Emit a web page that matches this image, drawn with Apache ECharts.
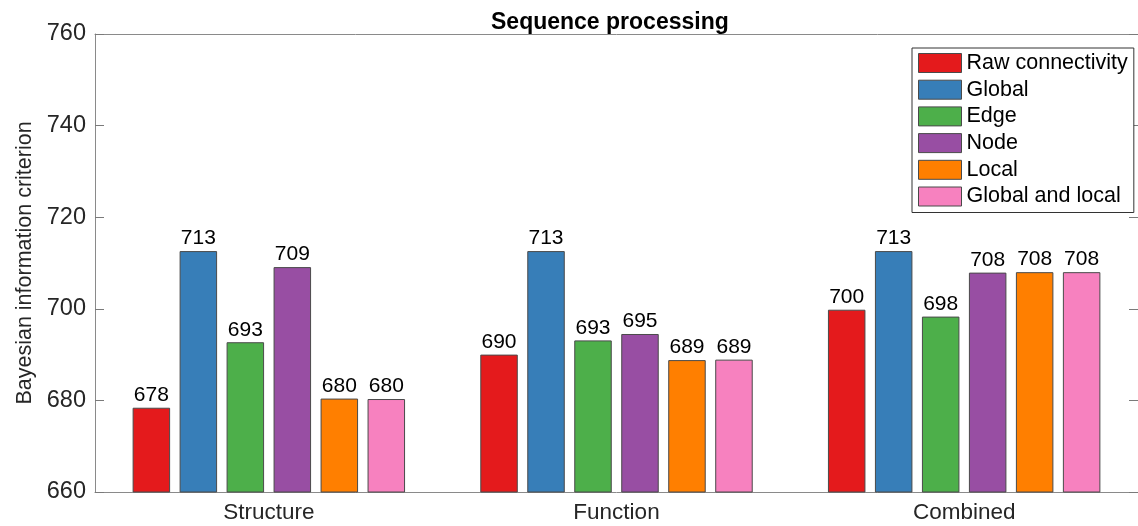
<!DOCTYPE html>
<html>
<head>
<meta charset="utf-8">
<script src="https://cdn.jsdelivr.net/npm/echarts@6/dist/echarts.min.js"></script>
<style>html,body{margin:0;padding:0;background:#fff}#c{width:1138px;height:526px}</style>
</head>
<body>
<div id="c"></div>
<script>
const categories = ['Structure', 'Function', 'Combined'];
const seriesNames = ['Raw connectivity', 'Global', 'Edge', 'Node', 'Local', 'Global and local'];
const rawConnectivity = [678.4, 690.0, 699.8];
const globalVals = [712.6, 712.6, 712.6];
const edgeVals = [692.7, 693.1, 698.3];
const nodeVals = [709.1, 694.5, 707.9];
const localVals = [680.4, 688.8, 708.0];
const globalAndLocal = [680.3, 688.9, 708.0];
const yTicks = [660, 680, 700, 720, 740, 760];
const colors = ['#E41A1C', '#377EB8', '#4DAF4A', '#984EA3', '#FF7F00', '#F781BF'];

const allValues = [rawConnectivity, globalVals, edgeVals, nodeVals, localVals, globalAndLocal];
const FONT = '"Liberation Sans", Arial, Helvetica, sans-serif';
const chart = echarts.init(document.getElementById('c'), null, {renderer: 'canvas'});

const series = seriesNames.map((name, i) => ({
  name: name,
  type: 'bar',
  data: allValues[i],
  barWidth: 37.5,
  barGap: '25.3%',
  itemStyle: {color: colors[i], borderColor: '#4a4a4a', borderWidth: 1},
  label: {
    show: true, position: 'top', distance: 2,
    formatter: p => Math.round(p.value).toString(),
    fontFamily: FONT, fontSize: 21, color: '#000'
  },
  emphasis: {disabled: true}
}));

chart.setOption({
  animation: false,
  backgroundColor: '#fff',
  title: {
    text: 'Sequence processing',
    left: 486, top: 6,
    textStyle: {fontFamily: FONT, fontSize: 23, fontWeight: 'bold', color: '#000'}
  },
  legend: {
    orient: 'vertical',
    icon: 'rect',
    left: 912, top: 48,
    padding: [4, 6, 5, 6],
    itemWidth: 43, itemHeight: 19, itemGap: 4.7,
    borderColor: '#333', borderWidth: 1,
    backgroundColor: '#fff',
    itemStyle: {borderColor: '#4a4a4a', borderWidth: 1},
    textStyle: {fontFamily: FONT, fontSize: 21.5, color: '#000'},
    data: seriesNames
  },
  grid: {left: 95, top: 34, width: 1050, height: 458, containLabel: false},
  xAxis: [{
    type: 'category', data: categories, position: 'bottom',
    axisLine: {lineStyle: {color: '#8a8a8a', width: 1}},
    axisTick: {show: false},
    axisLabel: {fontFamily: FONT, fontSize: 22.5, color: '#262626', margin: 9}
  }, {
    type: 'category', data: categories, position: 'top',
    axisLine: {show: true, lineStyle: {color: '#8a8a8a', width: 1}},
    axisTick: {show: false}, axisLabel: {show: false}
  }],
  yAxis: [{
    type: 'value', min: yTicks[0], max: yTicks[yTicks.length - 1], interval: 20,
    position: 'left',
    name: 'Bayesian information criterion',
    nameLocation: 'middle', nameGap: 56,
    nameTextStyle: {fontFamily: FONT, fontSize: 21.5, color: '#262626'},
    axisLine: {show: true, lineStyle: {color: '#8a8a8a', width: 1}},
    axisTick: {show: true, inside: true, length: 9, lineStyle: {color: '#7a7a7a', width: 1}},
    axisLabel: {fontFamily: FONT, fontSize: 23.5, color: '#262626', margin: 9},
    splitLine: {show: false}
  }, {
    type: 'value', min: yTicks[0], max: yTicks[yTicks.length - 1], interval: 20,
    position: 'right',
    axisLine: {show: true, lineStyle: {color: '#8a8a8a', width: 1}},
    axisTick: {show: true, inside: true, length: 9, lineStyle: {color: '#7a7a7a', width: 1}},
    axisLabel: {show: false},
    splitLine: {show: false}
  }],
  series: series
});
</script>
</body>
</html>
